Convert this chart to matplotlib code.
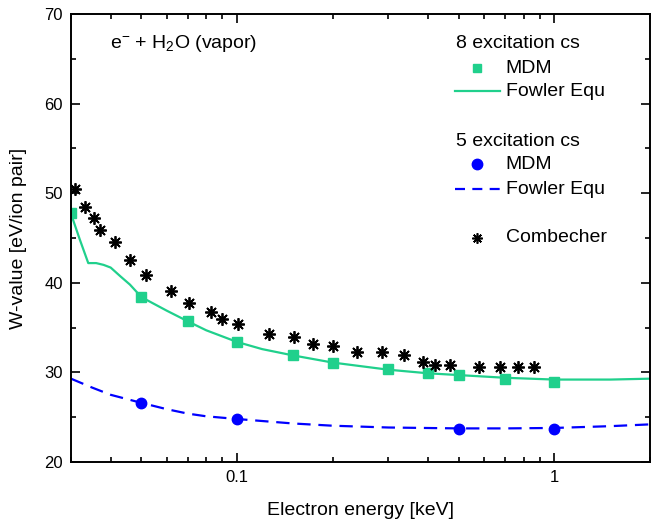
import numpy as np
import matplotlib
matplotlib.use("Agg")
import matplotlib.pyplot as plt
from matplotlib.ticker import LogLocator, MultipleLocator, FixedFormatter, FixedLocator

plt.rcParams['font.family'] = ['Liberation Sans', 'DejaVu Sans']
plt.rcParams['mathtext.fontset'] = 'custom'
plt.rcParams['mathtext.rm'] = 'Liberation Sans'
plt.rcParams['mathtext.default'] = 'rm'

GREEN = '#20D08C'
BLUE = '#0000FF'

# 8 excitation cs
mdm8_x = [0.03, 0.05, 0.07, 0.1, 0.15, 0.2, 0.3, 0.4, 0.5, 0.7, 1.0]
mdm8_y = [47.8, 38.4, 35.7, 33.4, 31.9, 31.05, 30.35, 29.9, 29.7, 29.3, 28.9]
fowler8_x = [0.03, 0.032, 0.034, 0.036, 0.038, 0.040, 0.043, 0.046, 0.05, 0.06,
             0.07, 0.08, 0.1, 0.12, 0.15, 0.2, 0.3, 0.4, 0.5, 0.7, 1.0, 1.5, 2.0]
fowler8_y = [47.7, 44.8, 42.2, 42.2, 42.0, 41.7, 40.7, 39.8, 38.4, 36.9,
             35.7, 34.7, 33.4, 32.6, 31.9, 31.1, 30.3, 29.9, 29.7, 29.4, 29.2, 29.2, 29.3]

# 5 excitation cs
mdm5_x = [0.05, 0.1, 0.5, 1.0]
mdm5_y = [26.55, 24.8, 23.7, 23.7]
fowler5_x = [0.03, 0.035, 0.04, 0.05, 0.06, 0.07, 0.08, 0.1, 0.15, 0.2, 0.3, 0.5, 0.7, 1.0, 1.5, 2.0]
fowler5_y = [29.3, 28.3, 27.5, 26.6, 25.9, 25.4, 25.1, 24.8, 24.3, 24.05, 23.85, 23.75, 23.75, 23.8, 24.0, 24.2]

# Combecher
comb_x = [0.0308, 0.0331, 0.0354, 0.0369, 0.0414, 0.0461, 0.0515, 0.0618, 0.0707, 0.0826,
          0.0899, 0.101, 0.126, 0.151, 0.173, 0.2, 0.238, 0.287, 0.336, 0.385,
          0.419, 0.470, 0.577, 0.672, 0.767, 0.861]
comb_y = [50.5, 48.5, 47.2, 45.9, 44.5, 42.5, 40.85, 39.1, 37.8, 36.7,
          36.0, 35.4, 34.3, 33.9, 33.2, 32.9, 32.25, 32.25, 31.9, 31.2,
          30.8, 30.8, 30.55, 30.55, 30.55, 30.55]

ASTER = (8, 2, 0)

fig = plt.figure(figsize=(6.51, 5.24), dpi=100)
ax = fig.add_axes([71 / 651, 62 / 524, 579 / 651, 448 / 524])

ax.plot(fowler8_x, fowler8_y, '-', color=GREEN, lw=1.6)
ax.plot(mdm8_x, mdm8_y, 's', color=GREEN, ms=7)
ax.plot(fowler5_x, fowler5_y, color=BLUE, lw=1.6, linestyle=(0, (6, 3.5)))
ax.plot(mdm5_x, mdm5_y, 'o', color=BLUE, ms=7.5)
ax.plot(comb_x, comb_y, linestyle='none', marker=ASTER, color='black', ms=9, mew=1.3)

ax.set_xscale('log')
ax.set_xlim(0.03, 2.0)
ax.set_ylim(20, 70)
ax.xaxis.set_major_locator(FixedLocator([0.1, 1.0]))
ax.xaxis.set_major_formatter(FixedFormatter(['0.1', '1']))
ax.xaxis.set_minor_locator(LogLocator(base=10, subs=np.arange(2, 10)))
ax.xaxis.set_minor_formatter(plt.NullFormatter())
ax.yaxis.set_major_locator(MultipleLocator(10))
ax.yaxis.set_minor_locator(MultipleLocator(5))

ax.tick_params(which='both', direction='in', top=True, right=True, labelsize=12, width=1.2)
ax.tick_params(which='major', length=6.5, pad=6)
ax.tick_params(which='minor', length=3.5)
for s in ax.spines.values():
    s.set_linewidth(1.4)

ax.set_xlabel('Electron energy [keV]', fontsize=14, labelpad=12)
ax.set_ylabel('W-value [eV/ion pair]', fontsize=14, labelpad=12)

ax.text(0.068, 0.935, r'e$^{\mathregular{-}}$ + H$_{\mathregular{2}}$O (vapor)', transform=ax.transAxes,
        fontsize=14, va='center')

# hand-made legend
t = ax.transAxes
ax.text(0.665, 0.935, '8 excitation cs', transform=t, fontsize=14, va='center')
ax.plot([0.701], [0.879], 's', color=GREEN, ms=6, transform=t)
ax.text(0.751, 0.879, 'MDM', transform=t, fontsize=14, va='center')
ax.plot([0.663, 0.741], [0.828, 0.828], '-', color=GREEN, lw=1.6, transform=t)
ax.text(0.751, 0.828, 'Fowler Equ', transform=t, fontsize=14, va='center')
ax.text(0.665, 0.7165, '5 excitation cs', transform=t, fontsize=14, va='center')
ax.plot([0.701], [0.665], 'o', color=BLUE, ms=7.5, transform=t)
ax.text(0.751, 0.665, 'MDM', transform=t, fontsize=14, va='center')
ax.plot([0.663, 0.741], [0.609, 0.609], color=BLUE, lw=1.6, linestyle=(0, (4.5, 3.3)), transform=t)
ax.text(0.751, 0.609, 'Fowler Equ', transform=t, fontsize=14, va='center')
ax.plot([0.701], [0.5], linestyle='none', marker=ASTER, color='black', ms=7.5, mew=1.2, transform=t)
ax.text(0.751, 0.5, 'Combecher', transform=t, fontsize=14, va='center')

fig.savefig('out.png', dpi=100)
